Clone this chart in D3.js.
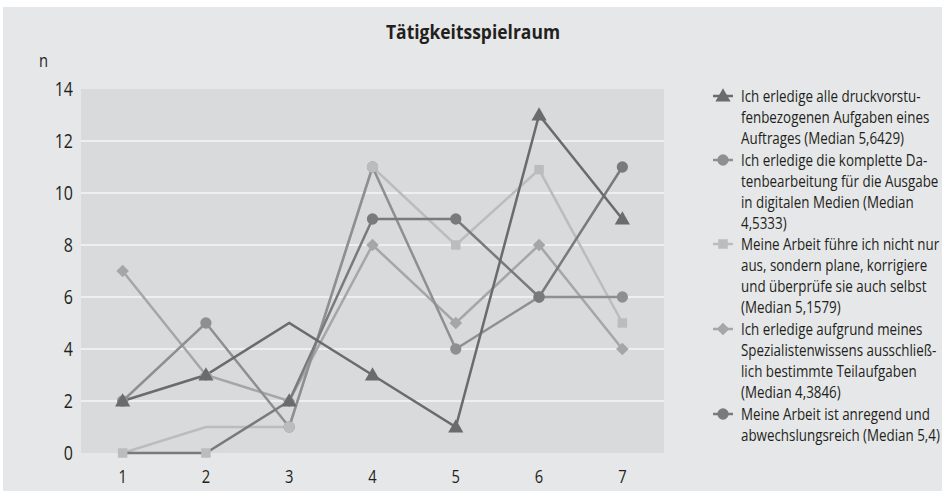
<!DOCTYPE html>
<html><head><meta charset="utf-8">
<script src="https://cdn.jsdelivr.net/npm/d3@7"></script>
<style>
html,body{margin:0;padding:0;background:#fff;}
svg{display:block;}
text{font-family:"Open Sans",sans-serif;fill:#231f20;}
</style></head>
<body>
<script>
const title = "Tätigkeitsspielraum";
const yLabel = "n";
const categories = [1, 2, 3, 4, 5, 6, 7];
const yTicks = [0, 2, 4, 6, 8, 10, 12, 14];

const s1Values = [2, 3, 5, 3, 1, 13, 9];
const s2Values = [2, 5, 1, 11, 4, 6, 6];
const s3Values = [0, 1, 1, 11, 8, 10.9, 5];
const s4Values = [7, 3, 2, 8, 5, 8, 4];
const s5Values = [0, 0, 2, 9, 9, 6, 11];

const s1Label = ["Ich erledige alle druckvorstu-", "fenbezogenen Aufgaben eines", "Auftrages (Median 5,6429)"];
const s2Label = ["Ich erledige die komplette Da-", "tenbearbeitung für die Ausgabe", "in digitalen Medien (Median", "4,5333)"];
const s3Label = ["Meine Arbeit führe ich nicht nur", "aus, sondern plane, korrigiere", "und überprüfe sie auch selbst", "(Median 5,1579)"];
const s4Label = ["Ich erledige aufgrund meines", "Spezialistenwissens ausschließ-", "lich bestimmte Teilaufgaben", "(Median 4,3846)"];
const s5Label = ["Meine Arbeit ist anregend und", "abwechslungsreich (Median 5,4)"];

const C1 = "#6b6b6d", C2 = "#8f8f91", C3 = "#bcbcbe", C4 = "#a6a6a8", C5 = "#7a7a7c";

// style config; per-point marker overrides reproduce the original's marker quirks
const series = [
  {label: s1Label, values: s1Values, symbol: "triangle", color: C1, override: {2: null}},
  {label: s2Label, values: s2Values, symbol: "circle", color: C2, override: {}},
  {label: s3Label, values: s3Values, symbol: "square", color: C3, override: {1: null, 2: ["circle", C3], 3: ["circle", C3]}},
  {label: s4Label, values: s4Values, symbol: "diamond", color: C4, override: {}},
  {label: s5Label, values: s5Values, symbol: "circle", color: C5, override: {0: null, 1: ["square", C3], 2: ["triangle", C1]}}
];
const lineOrder = [3, 2, 1, 4, 0];
const markerOrder = [3, 1, 4, 2, 0];

const W = 942, H = 491;
const svg = d3.select("body").append("svg").attr("width", W).attr("height", H);
svg.append("rect").attr("x", 3).attr("y", 7).attr("width", W - 3).attr("height", H - 7).attr("fill", "#e6e7e8");

const plot = {left: 81, right: 664, top: 89, bottom: 453};
const x = d3.scaleBand().domain(categories).range([plot.left, plot.right]);
const y = d3.scaleLinear().domain([0, 14]).range([plot.bottom, plot.top]);

svg.append("rect").attr("x", plot.left).attr("y", plot.top)
  .attr("width", plot.right - plot.left).attr("height", plot.bottom - plot.top).attr("fill", "#d9dadb");

svg.append("g").selectAll("line").data(yTicks.filter(d => d > 0 && d < 14)).join("line")
  .attr("x1", plot.left).attr("x2", plot.right)
  .attr("y1", d => y(d)).attr("y2", d => y(d))
  .attr("stroke", "#eeeff0").attr("stroke-width", 2);

const condense = 0.82;

// y axis
const yAxis = d3.axisLeft(y).tickValues(yTicks).tickSize(0).tickPadding(0).tickFormat(() => "");
const gy = svg.append("g").attr("transform", `translate(${plot.left},0)`).call(yAxis);
gy.select(".domain").remove();
gy.selectAll(".tick").append("text")
  .attr("transform", `translate(-8,0) scale(${condense},1)`)
  .attr("text-anchor", "end").attr("dy", "0.35em")
  .style("font-size", "19.5px").text(d => d);

// x axis
const xAxis = d3.axisBottom(x).tickSize(0).tickFormat(() => "");
const gx = svg.append("g").attr("transform", `translate(0,${plot.bottom})`).call(xAxis);
gx.select(".domain").remove();
gx.selectAll(".tick").append("text")
  .attr("transform", `translate(0,30) scale(${condense},1)`)
  .attr("text-anchor", "middle").style("font-size", "18px").text(d => d);

svg.append("text").attr("transform", `translate(473,39) scale(0.92,1)`).attr("text-anchor", "middle")
  .style("font-size", "19px").style("font-weight", "bold").text(title);
svg.append("text").attr("transform", `translate(39,67) scale(${condense},1)`).style("font-size", "18px").text(yLabel);

const diamondSym = {
  draw(ctx, size) {
    const r = Math.sqrt(size / 2);
    ctx.moveTo(0, -r); ctx.lineTo(r, 0); ctx.lineTo(0, r); ctx.lineTo(-r, 0); ctx.closePath();
  }
};
const symbolMap = {triangle: d3.symbolTriangle, circle: d3.symbolCircle, square: d3.symbolSquare, diamond: diamondSym};
const symbolSize = {triangle: 100, circle: 100, square: 90, diamond: 80};
const cx = d => x(d) + x.bandwidth() / 2;

const line = d3.line().x((d, i) => cx(categories[i])).y(d => y(d));

lineOrder.forEach(k => {
  const s = series[k];
  svg.append("path").datum(s.values).attr("d", line)
    .attr("fill", "none").attr("stroke", s.color).attr("stroke-width", 2.5).attr("stroke-linejoin", "miter");
});
markerOrder.forEach(k => {
  const s = series[k];
  const pts = s.values.map((v, i) => {
    const o = (i in s.override) ? s.override[i] : [s.symbol, s.color];
    return o ? {v, i, sym: o[0], col: o[1]} : null;
  }).filter(Boolean);
  svg.append("g").selectAll("path").data(pts).join("path")
    .attr("transform", d => `translate(${cx(categories[d.i])},${y(d.v) + (d.sym === "triangle" ? 1 : 0)})`)
    .attr("d", d => d3.symbol().type(symbolMap[d.sym]).size(symbolSize[d.sym])())
    .attr("fill", d => d.col);
});

// legend
const legendItemY = [96, 160, 244, 329, 414];
const lineH = 21;
series.forEach((s, k) => {
  const g = svg.append("g").attr("transform", `translate(0,${legendItemY[k]})`);
  g.append("line").attr("x1", 713).attr("x2", 733).attr("y1", 0).attr("y2", 0)
    .attr("stroke", s.color).attr("stroke-width", 2.5);
  g.append("path").attr("transform", `translate(723,${s.symbol === "triangle" ? 1 : 0})`)
    .attr("d", d3.symbol().type(symbolMap[s.symbol]).size(symbolSize[s.symbol])()).attr("fill", s.color);
  s.label.forEach((t, j) => {
    g.append("text").attr("transform", `translate(741,${j * lineH}) scale(0.81,1)`).attr("dy", "0.35em")
      .style("font-size", "16.5px").text(t);
  });
});
</script>
</body></html>
